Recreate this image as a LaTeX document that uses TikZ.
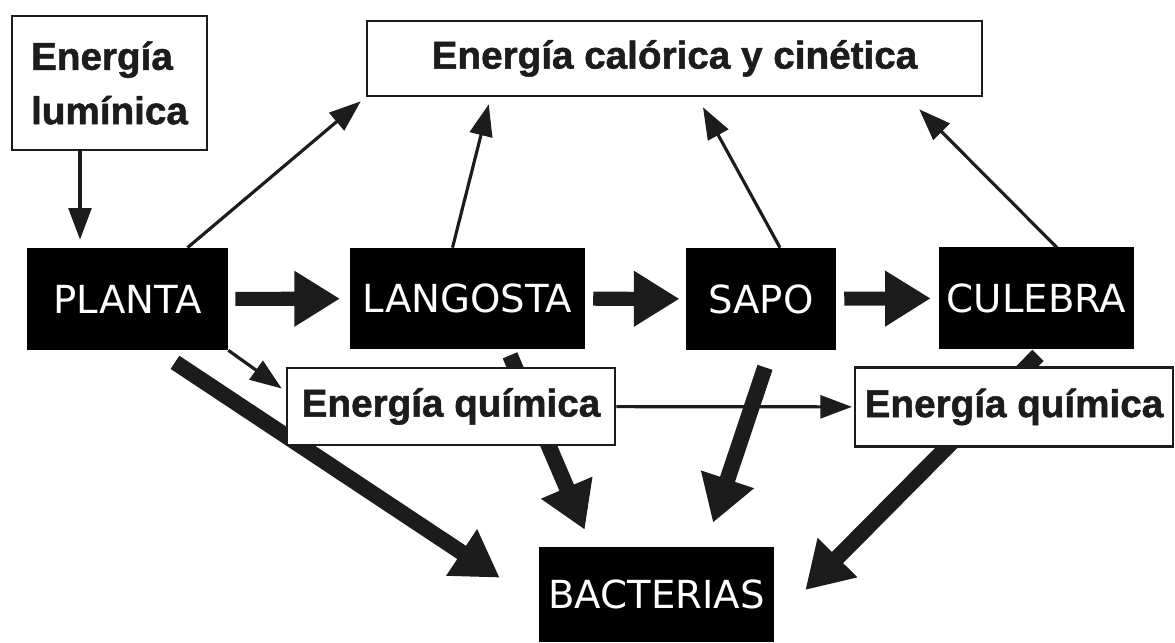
\documentclass[tikz,border=0pt]{standalone}
\usepackage{fontspec}
\setmainfont{Liberation Sans}
\newfontfamily\gruesa[FakeBold=1.3]{Liberation Sans}
\newfontfamily\comicfont{DejaVu Sans}
\usetikzlibrary{arrows.meta, calc, backgrounds}

\definecolor{flecha}{HTML}{1C1C1C}

\tikzset{
  energia/.style={draw=flecha, line width=1.5pt, fill=white, rectangle, inner sep=0pt,
    text=flecha, font=\gruesa\fontsize{22}{31}\selectfont\bfseries},
  ser/.style={fill=black, rectangle, inner sep=0pt, text=white,
    font=\comicfont\fontsize{22}{26}\selectfont},
  fino/.style={-{Triangle[length=18pt, width=13pt]}, line width=1.8pt, draw=flecha},
  grueso/.style={-{Triangle[length=26pt, width=30pt]}, line width=8pt, draw=flecha},
}

\begin{document}
\begin{tikzpicture}[x=0.02cm, y=-0.02cm]

    \useasboundingbox (0,0) rectangle (1175,642);

    % Energy sources
    \node[energia, minimum width=3.9cm, minimum height=2.68cm, align=left] (luz) at (109.5,83) {Energía\\lumínica};
    \node[energia, minimum width=12.3cm, minimum height=1.5cm] (calor) at (674.5,58.5) {Energía calórica y cinética};

    % Food chain
    \node[ser, minimum width=4.02cm, minimum height=2.04cm] (planta) at (127.5,299) {PLANTA};
    \node[ser, minimum width=4.7cm, minimum height=2.02cm] (langosta) at (467.5,298.5) {LANGOSTA};
    \node[ser, minimum width=3cm, minimum height=2.04cm] (sapo) at (761,299) {SAPO};
    \node[ser, minimum width=3.9cm, minimum height=2.04cm] (culebra) at (1036.5,298) {CULEBRA};

    % Chemical energy
    \node[energia, minimum width=6.56cm, minimum height=1.54cm] (quimA) at (451,406.5) {Energía química};
    \node[energia, minimum width=6.36cm, minimum height=1.58cm] (quimB) at (1014,407) {Energía química};

    % Decomposers
    \node[ser, minimum width=4.7cm, minimum height=1.9cm] (bacterias) at (656.5,594.5) {BACTERIAS};

    % Thin arrows
    \draw[fino] ($(luz.south)+(-29.5,0)$) -- ($(planta.north)+(-47.5,-8)$);
    \draw[fino] ($(planta.north)+(60,0)$) -- ($(calor.south west)+(-5,4)$);
    \draw[fino] ($(langosta.north)+(-15,0)$) -- ($(calor.south west)+(123,7)$);
    \draw[fino] ($(sapo.north)+(19,0)$) -- ($(calor.south)+(28.5,10)$);
    \draw[fino] ($(culebra.north)+(20.5,1)$) -- ($(calor.south east)+(-64,12)$);
    \draw[fino] (planta.south east) -- ($(quimA.west)+(-4,-18)$);
    \draw[fino, shorten >=1pt] (quimA) -- (quimB);

    % Thick arrows, behind the boxes
    \begin{pgfonlayer}{background}
    \draw[grueso, shorten <=4pt, shorten >=5.5pt] (planta) -- (langosta);
    \draw[grueso, shorten <=4.5pt, shorten >=3.5pt] (langosta) -- (sapo);
    \draw[grueso, shorten <=4.5pt, shorten >=4.5pt] (sapo) -- (culebra);

    \draw[grueso, line width=9pt] ($(planta.south)+(47.5,12)$) -- ($(bacterias.north west)+(-39,31)$);
    \draw[grueso, line width=9pt] ($(langosta.south)+(42.5,6)$) -- ($(bacterias.north west)+(46,-17)$);
    \draw[grueso, line width=9pt] ($(sapo.south)+(4,17)$) -- ($(bacterias.north)+(56.5,-24)$);
    \draw[grueso, line width=9pt] ($(culebra.south)+(1.5,6)$) -- ($(bacterias.east)+(31,-4.5)$);
    \end{pgfonlayer}

\end{tikzpicture}
\end{document}
